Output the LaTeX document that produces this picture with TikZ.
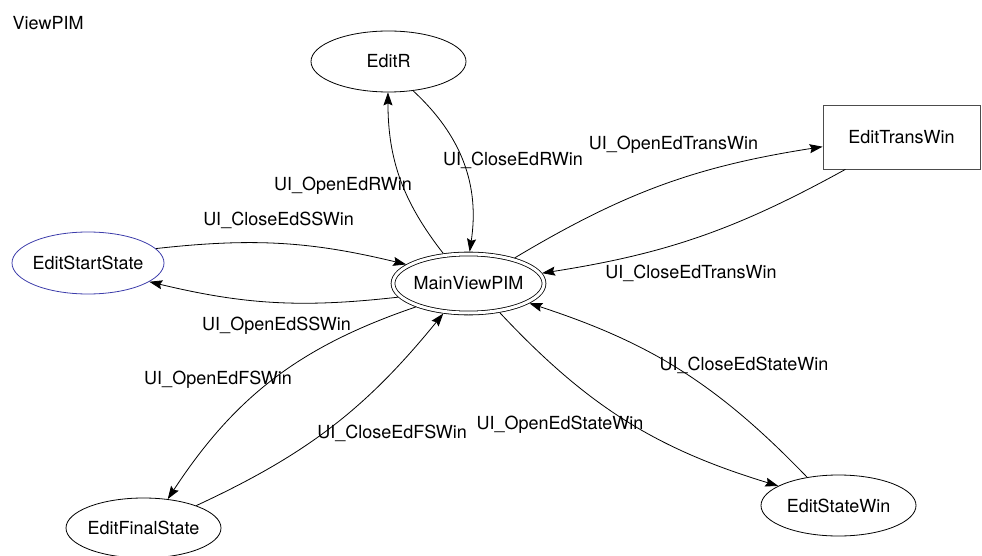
\documentclass[tikz,border=0pt]{standalone}
\usepackage{fontspec}
\setmainfont{TeX Gyre Heros}
\usetikzlibrary{shapes.geometric,arrows.meta}
\definecolor{startblue}{RGB}{60,60,170}
\begin{document}
\begin{tikzpicture}[x=1pt,y=-1pt,
  font=\fontsize{18}{22}\selectfont,
  st/.style={ellipse, draw, line width=0.8pt, minimum width=155pt, minimum height=61pt, inner sep=0pt},
  boxst/.style={rectangle, draw=black!70, line width=0.8pt, minimum width=157pt, minimum height=64pt, inner sep=0pt},
  mainst/.style={ellipse, draw, double, double distance=3pt, line width=0.8pt, minimum width=151pt, minimum height=59pt, inner sep=0pt, outer sep=2.3pt},
  edge/.style={line width=0.8pt, -{Stealth[length=13pt,width=9pt,inset=2pt]}},
  lbl/.style={anchor=base, inner sep=0pt}]
\useasboundingbox (0,0) rectangle (982,556);
\node[anchor=base west, inner sep=0pt] (title) at (12.5,29.5) {ViewPIM};
\node[st] (editR) at (388.5,61.5) {\makebox[0pt]{EditR}};
\node[boxst] (trans) at (901.5,137) {\makebox[0pt]{EditTransWin}};
\node[st, draw=startblue, minimum width=152pt, minimum height=62pt] (start) at (88,263) {\makebox[0pt]{EditStartState}};
\node[mainst] (main) at (468.5,283.5) {\makebox[0pt]{MainViewPIM}};
\node[st, minimum height=60pt] (final) at (143.5,528) {\makebox[0pt]{EditFinalState}};
\node[st] (statew) at (838.5,505.5) {\makebox[0pt]{EditStateWin}};

\draw[edge] (main.130) to[out=128,in=270] (editR.269);
\draw[edge] (editR.310) to[bend left=28] (main.88);
\draw[edge] (main.29) to[bend left=11] (trans.187);
\draw[edge] (trans.210) to[bend left=10] (main.8);
\draw[edge] (start.12) to[bend left=10] (main.163);
\draw[edge] (main.191) to[bend left=10] (start.343);
\draw[edge] (main.204) to[bend right=19] (final.50);
\draw[edge] (final.23) to[bend right=13] (main.230);
\draw[edge] (main.317) to[bend right=15] (statew.162);
\draw[edge] (statew.138) to[bend right=14] (main.342);

\node[lbl] (l1) at (343,190.5) {UI\_OpenEdRWin};
\node[lbl] (l2) at (513,165.5) {UI\_CloseEdRWin};
\node[lbl] (l3) at (673.5,150) {UI\_OpenEdTransWin};
\node[lbl] (l4) at (691,278.5) {UI\_CloseEdTransWin};
\node[lbl] (l5) at (278.5,225.5) {UI\_CloseEdSSWin};
\node[lbl] (l6) at (276.5,330.5) {UI\_OpenEdSSWin};
\node[lbl] (l7) at (218,384.5) {UI\_OpenEdFSWin};
\node[lbl] (l8) at (392,438.5) {UI\_CloseEdFSWin};
\node[lbl] (l9) at (560,429.5) {UI\_OpenEdStateWin};
\node[lbl] (l10) at (744,370.5) {UI\_CloseEdStateWin};
\end{tikzpicture}
\end{document}
